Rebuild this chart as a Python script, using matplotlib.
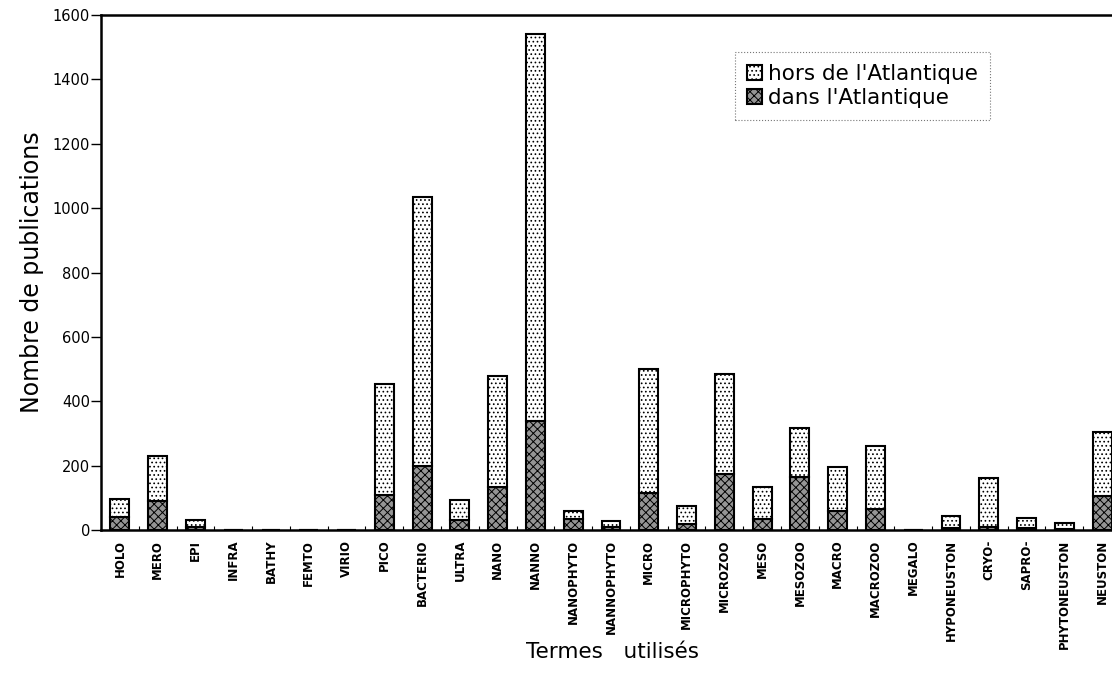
import numpy as np
import matplotlib.pyplot as plt
from matplotlib.ticker import FixedLocator

# data
categories = ["HOLO", "MERO", "EPI", "INFRA", "BATHY", "FEMTO", "VIRIO", "PICO",
              "BACTERIO", "ULTRA", "NANO", "NANNO", "NANOPHYTO", "NANNOPHYTO",
              "MICRO", "MICROPHYTO", "MICROZOO", "MESO", "MESOZOO", "MACRO",
              "MACROZOO", "MEGALO", "HYPONEUSTON", "CRYO-", "SAPRO-",
              "PHYTONEUSTON", "NEUSTON"]
dans_atlantique = [40, 90, 8, 0, 0, 0, 0, 110, 200, 32, 135, 340, 35, 8,
                   115, 20, 175, 35, 165, 60, 65, 0, 5, 10, 5, 4, 105]
hors_atlantique = [57, 140, 24, 0, 0, 0, 0, 345, 835, 60, 345, 1200, 25, 19,
                   385, 55, 310, 100, 153, 135, 197, 0, 40, 152, 33, 18, 200]
yticks = [0, 200, 400, 600, 800, 1000, 1200, 1400, 1600]

plt.rcParams['hatch.linewidth'] = 0.7

fig = plt.figure(figsize=(11.12, 6.85), dpi=100)
# axes run past the right edge of the figure, as in the scan
ax = fig.add_axes([101 / 1112, 1 - 530 / 685, 1020 / 1112, 515 / 685])

x = np.arange(len(categories))
ax.bar(x, dans_atlantique, width=0.5, color="#959595", edgecolor="black",
       linewidth=1.5, hatch="xxxx", label="dans l'Atlantique", zorder=3)
ax.bar(x, hors_atlantique, width=0.5, bottom=dans_atlantique, color="white",
       edgecolor="black", linewidth=1.5, hatch="....",
       label="hors de l'Atlantique", zorder=3)

ax.set_xlim(-0.5, len(categories) - 0.5)
ax.set_ylim(0, 1600)
ax.set_yticks(yticks)
ax.tick_params(axis="y", direction="out", length=7, width=1, pad=1,
               labelsize=10.5)

ax.set_xticks(x)
ax.set_xticklabels(categories, rotation=90, fontsize=8.5, fontweight="bold")
ax.tick_params(axis="x", length=0, pad=7)
ax.xaxis.set_minor_locator(FixedLocator(x[:-1] + 0.5))
ax.tick_params(axis="x", which="minor", direction="in", length=3, width=0.8)

for side in ["left", "bottom", "top"]:
    ax.spines[side].set_linewidth(1.8)
ax.spines["right"].set_visible(False)

ax.set_ylabel("Nombre de publications", fontsize=17, labelpad=6)
fig.text(613 / 1112, 1 - 652 / 685, "Termes   utilisés", fontsize=15.5,
         ha="center", va="center")

handles, labels = ax.get_legend_handles_labels()
leg = fig.legend(handles[::-1], labels[::-1], loc="upper left",
                 bbox_to_anchor=(735 / 1112, 1 - 52 / 685), fontsize=15.5,
                 handlelength=0.7, handleheight=0.7, handletextpad=0.3,
                 labelspacing=0.2, borderpad=0.55, borderaxespad=0,
                 fancybox=False, framealpha=1)
leg.get_frame().set_edgecolor("#777777")
leg.get_frame().set_linewidth(0.8)
leg.get_frame().set_linestyle(":")

fig.savefig("out.png", dpi=100)
